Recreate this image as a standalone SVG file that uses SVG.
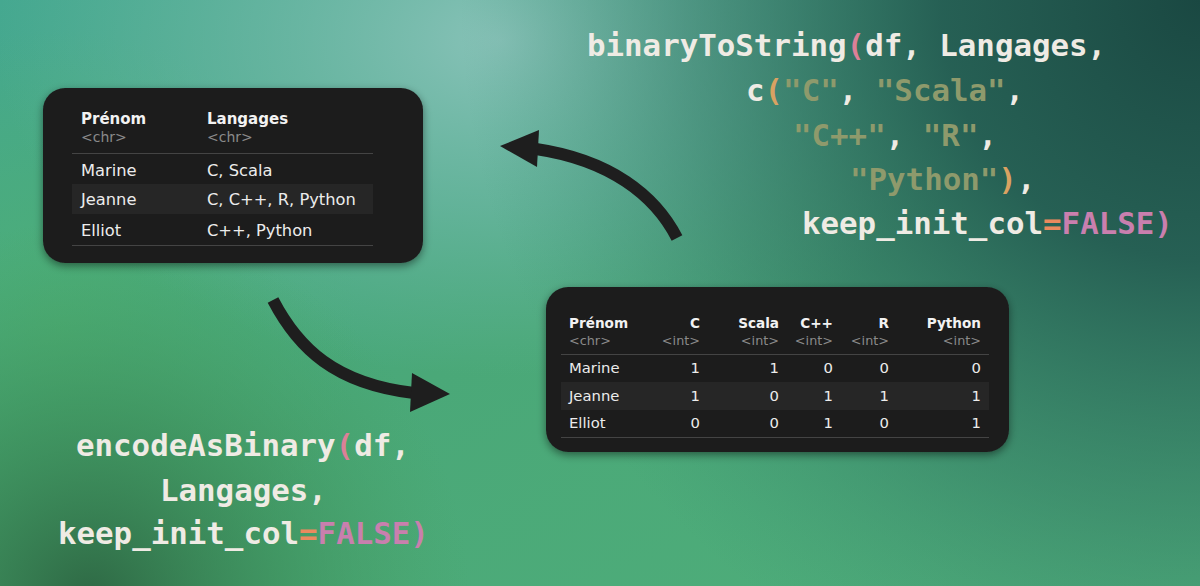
<svg xmlns="http://www.w3.org/2000/svg" width="1200" height="586" viewBox="0 0 1200 586">
<defs>
<linearGradient id="base" x1="0" y1="0" x2="1" y2="1">
<stop offset="0" stop-color="#45a890"/>
<stop offset="0.5" stop-color="#4aa878"/>
<stop offset="1" stop-color="#4fae7a"/>
</linearGradient>
<radialGradient id="light" cx="500" cy="40" r="420" gradientUnits="userSpaceOnUse" gradientTransform="translate(500 40) scale(1.2 0.8) translate(-500 -40)">
<stop offset="0" stop-color="#88c2b8" stop-opacity="1"/>
<stop offset="0.5" stop-color="#74baab" stop-opacity="0.6"/>
<stop offset="1" stop-color="#6ab8a4" stop-opacity="0"/>
</radialGradient>
<radialGradient id="dark" cx="1200" cy="0" r="740" gradientUnits="userSpaceOnUse">
<stop offset="0" stop-color="#1a4842" stop-opacity="1"/>
<stop offset="0.35" stop-color="#245c52" stop-opacity="0.95"/>
<stop offset="0.7" stop-color="#2e7060" stop-opacity="0.45"/>
<stop offset="1" stop-color="#3a8a70" stop-opacity="0"/>
</radialGradient>
<radialGradient id="bl" cx="90" cy="600" r="380" gradientUnits="userSpaceOnUse">
<stop offset="0" stop-color="#2e6844" stop-opacity="1"/>
<stop offset="0.5" stop-color="#3a8a55" stop-opacity="0.6"/>
<stop offset="1" stop-color="#45a060" stop-opacity="0"/>
</radialGradient>
<radialGradient id="lm" cx="60" cy="330" r="300" gradientUnits="userSpaceOnUse">
<stop offset="0" stop-color="#4eb074" stop-opacity="0.8"/>
<stop offset="1" stop-color="#4eb074" stop-opacity="0"/>
</radialGradient>
<filter id="sh" x="-10%" y="-10%" width="120%" height="130%">
<feDropShadow dx="0" dy="3" stdDeviation="4" flood-color="#000" flood-opacity="0.45"/>
</filter>
<style>
.card{fill:#1f1f1f;}
.band{fill:#262626;}
.rule{stroke:#444;stroke-width:1;}
.hd{font-family:"DejaVu Sans",sans-serif;font-weight:bold;fill:#f2f2f2;}
.ty{font-family:"DejaVu Sans",sans-serif;fill:#8a8a8a;}
.dt{font-family:"DejaVu Sans",sans-serif;fill:#ececec;}
.code{font-family:"DejaVu Sans Mono","Liberation Mono",monospace;font-weight:bold;font-size:30.8px;fill:#efebe4;}
.p1{fill:#dc8098;}
.p2{fill:#d9a262;}
.str{fill:#8e9a6c;}
.eq{fill:#ea8a5e;}
.kw{fill:#c97fae;}
.arr{fill:none;stroke:#1e1e1e;stroke-width:12;}
.head{fill:#1e1e1e;}
.r{text-anchor:end;}
</style>
</defs>
<rect width="1200" height="586" fill="url(#base)"/>
<rect width="1200" height="586" fill="url(#lm)"/>
<rect width="1200" height="586" fill="url(#light)"/>
<rect width="1200" height="586" fill="url(#dark)"/>
<rect width="1200" height="586" fill="url(#bl)"/>

<g id="table-input">
<rect class="card" x="43" y="88" width="380" height="175" rx="22" filter="url(#sh)"/>
<rect class="band" x="72" y="184" width="301" height="30"/>
<line class="rule" x1="72" y1="153.5" x2="373" y2="153.5"/>
<line class="rule" x1="72" y1="245.5" x2="373" y2="245.5"/>
<text class="hd" x="81" y="124" font-size="15">Prénom</text>
<text class="hd" x="207" y="124" font-size="15">Langages</text>
<text class="ty" x="81" y="142" font-size="14">&lt;chr&gt;</text>
<text class="ty" x="207" y="142" font-size="14">&lt;chr&gt;</text>
<text class="dt" x="81" y="176" font-size="16.3">Marine</text>
<text class="dt" x="207" y="176" font-size="16.3">C, Scala</text>
<text class="dt" x="81" y="205" font-size="16.3">Jeanne</text>
<text class="dt" x="207" y="205" font-size="16.3">C, C++, R, Python</text>
<text class="dt" x="81" y="236" font-size="16.3">Elliot</text>
<text class="dt" x="207" y="236" font-size="16.3">C++, Python</text>
</g>

<g id="table-binary">
<rect class="card" x="546" y="287" width="463" height="165" rx="22" filter="url(#sh)"/>
<rect class="band" x="561" y="382" width="428" height="28"/>
<line class="rule" x1="561" y1="354.5" x2="989" y2="354.5"/>
<line class="rule" x1="561" y1="437.5" x2="989" y2="437.5"/>
<g font-size="13.6">
<text class="hd" x="569" y="328">Prénom</text>
<text class="hd r" x="700" y="328">C</text>
<text class="hd r" x="779" y="328">Scala</text>
<text class="hd r" x="833" y="328">C++</text>
<text class="hd r" x="889" y="328">R</text>
<text class="hd r" x="981" y="328">Python</text>
</g>
<g font-size="12.8">
<text class="ty" x="569" y="345">&lt;chr&gt;</text>
<text class="ty r" x="700" y="345">&lt;int&gt;</text>
<text class="ty r" x="779" y="345">&lt;int&gt;</text>
<text class="ty r" x="833" y="345">&lt;int&gt;</text>
<text class="ty r" x="889" y="345">&lt;int&gt;</text>
<text class="ty r" x="981" y="345">&lt;int&gt;</text>
</g>
<g font-size="14.8">
<text class="dt" x="569" y="373">Marine</text>
<text class="dt r" x="700" y="373">1</text>
<text class="dt r" x="779" y="373">1</text>
<text class="dt r" x="833" y="373">0</text>
<text class="dt r" x="889" y="373">0</text>
<text class="dt r" x="981" y="373">0</text>
<text class="dt" x="569" y="401">Jeanne</text>
<text class="dt r" x="700" y="401">1</text>
<text class="dt r" x="779" y="401">0</text>
<text class="dt r" x="833" y="401">1</text>
<text class="dt r" x="889" y="401">1</text>
<text class="dt r" x="981" y="401">1</text>
<text class="dt" x="569" y="428">Elliot</text>
<text class="dt r" x="700" y="428">0</text>
<text class="dt r" x="779" y="428">0</text>
<text class="dt r" x="833" y="428">1</text>
<text class="dt r" x="889" y="428">0</text>
<text class="dt r" x="981" y="428">1</text>
</g>
</g>

<g id="code-binaryToString" class="code">
<text x="587" y="56">binaryToString<tspan class="p1">(</tspan>df, Langages,</text>
<text x="746" y="101">c<tspan class="p2">(</tspan><tspan class="str">"C"</tspan>, <tspan class="str">"Scala"</tspan>,</text>
<text x="793" y="146"><tspan class="str">"C++"</tspan>, <tspan class="str">"R"</tspan>,</text>
<text x="850" y="190"><tspan class="str">"Python"</tspan><tspan class="p2">)</tspan>,</text>
<text x="802" y="234">keep_init_col<tspan class="eq">=</tspan><tspan class="kw">FALSE)</tspan></text>
</g>

<g id="code-encodeAsBinary" class="code">
<text x="76" y="456">encodeAsBinary<tspan class="p1">(</tspan>df,</text>
<text x="160" y="501">Langages,</text>
<text x="58" y="544">keep_init_col<tspan class="eq">=</tspan><tspan class="kw">FALSE)</tspan></text>
</g>

<g id="connectors">
<path class="arr" d="M677,238 C655,195 610,160 536,149"/>
<polygon class="head" points="500,146 539,130 537,167"/>
<path class="arr" d="M273,300 C298,348 335,384 414,393"/>
<polygon class="head" points="450,394 412,373 410,412"/>
</g>
</svg>
